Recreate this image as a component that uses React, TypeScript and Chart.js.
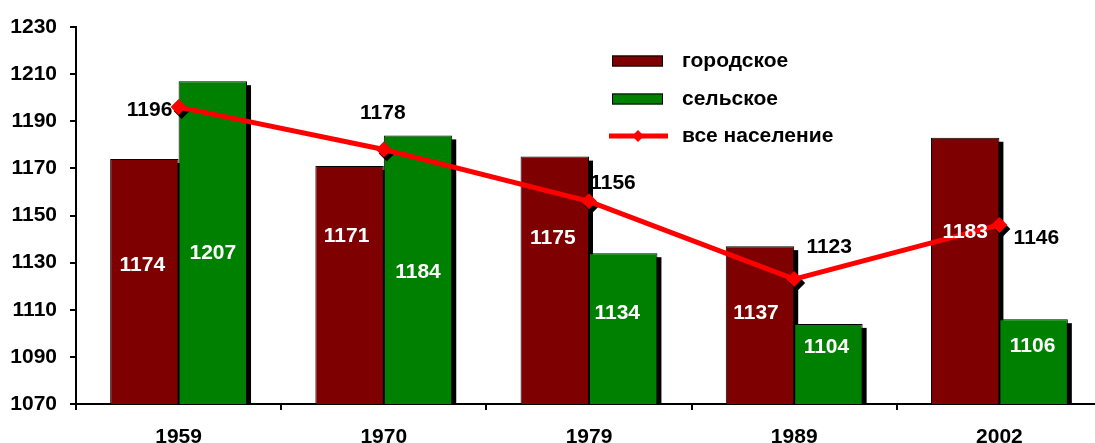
import React, { useEffect, useRef } from 'react';
import { Chart, registerables } from 'chart.js';

Chart.register(...registerables);

const years = ['1959', '1970', '1979', '1989', '2002'];
const urban = [1174, 1171, 1175, 1137, 1183];
const rural = [1207, 1184, 1134, 1104, 1106];
const total = [1196, 1178, 1156, 1123, 1146];
const seriesNames = ['городское', 'сельское', 'все население'];
const yMin = 1070;
const yMax = 1230;
const yStep = 20;

// label placement (style): offsets from bar top / point in pixels
const urbanLabelOffsets = [[-2, 106], [-3, 70], [-2, 82], [-4, 67], [0, 94]];
const ruralLabelOffsets = [[0, 172], [0, 137], [-6, 60], [-2, 23], [-1, 27]];
const totalLabelOffsets = [[-29, 3], [-1, -36], [24, -18], [35, -32], [37, 13]];

const FONT_FAMILY = '"Liberation Sans", Arial, sans-serif';
const FONT_SIZE = 21;
const BOLD = `bold ${FONT_SIZE}px ${FONT_FAMILY}`;
const URBAN_COLOR = '#7f0000';
const RURAL_COLOR = '#008000';
const LINE_COLOR = '#ff0000';

function diamond(ctx: CanvasRenderingContext2D, x: number, y: number, r: number) {
  ctx.beginPath();
  ctx.moveTo(x, y - r);
  ctx.lineTo(x + r, y);
  ctx.lineTo(x, y + r);
  ctx.lineTo(x - r, y);
  ctx.closePath();
  ctx.fill();
}

const decorPlugin = {
  id: 'decor',
  beforeDatasetsDraw(chart: any) {
    const ctx = chart.ctx as CanvasRenderingContext2D;
    const a = chart.chartArea;
    ctx.save();
    ctx.beginPath();
    ctx.rect(a.left, a.top, a.right - a.left, a.bottom - a.top);
    ctx.clip();
    ctx.fillStyle = '#000';
    [0, 1].forEach((di) => {
      const meta = chart.getDatasetMeta(di);
      meta.data.forEach((el: any) => {
        const { x, y, base, width } = el.getProps(['x', 'y', 'base', 'width'], true);
        ctx.fillRect(x - width / 2 + 4, y + 4, width, base - y - 4);
      });
    });
    ctx.restore();
  },
  beforeDatasetDraw(chart: any, args: any) {
    if (args.index !== 2) return;
    const ctx = chart.ctx as CanvasRenderingContext2D;
    ctx.save();
    ctx.fillStyle = '#000';
    chart.getDatasetMeta(2).data.forEach((el: any) => {
      diamond(ctx, el.x + 3, el.y + 4, 8);
    });
    ctx.restore();
  },
  afterDatasetsDraw(chart: any) {
    const ctx = chart.ctx as CanvasRenderingContext2D;
    ctx.save();
    ctx.font = BOLD;
    ctx.textAlign = 'center';
    ctx.textBaseline = 'middle';
    const groups: [number, number[][], string, number[]][] = [
      [0, urbanLabelOffsets, '#fff', urban],
      [1, ruralLabelOffsets, '#fff', rural],
      [2, totalLabelOffsets, '#000', total],
    ];
    groups.forEach(([di, offs, color, vals]) => {
      ctx.fillStyle = color;
      chart.getDatasetMeta(di).data.forEach((el: any, i: number) => {
        ctx.fillText(String(vals[i]), el.x + offs[i][0], el.y + offs[i][1]);
      });
    });
    ctx.restore();
  },
  afterDraw(chart: any) {
    const ctx = chart.ctx as CanvasRenderingContext2D;
    const ds = chart.data.datasets;
    const boxX = 612;
    const textX = 682;
    const rows = [61, 99, 136];
    ctx.save();
    ctx.font = BOLD;
    ctx.textAlign = 'left';
    ctx.textBaseline = 'middle';
    rows.forEach((cy, i) => {
      if (i < 2) {
        ctx.fillStyle = ds[i].backgroundColor;
        ctx.fillRect(boxX, cy - 5.5, 51, 11);
        ctx.strokeStyle = '#000';
        ctx.lineWidth = 1;
        ctx.strokeRect(boxX + 0.5, cy - 5.5 + 0.5, 50, 10);
      } else {
        ctx.strokeStyle = ds[i].borderColor;
        ctx.lineWidth = 5;
        ctx.beginPath();
        ctx.moveTo(boxX - 3, cy);
        ctx.lineTo(boxX + 56, cy);
        ctx.stroke();
        ctx.fillStyle = ds[i].borderColor;
        diamond(ctx, boxX + 26, cy, 6);
      }
      ctx.fillStyle = '#000';
      ctx.fillText(ds[i].label, textX, cy);
    });
    ctx.restore();
  },
};

export default function App() {
  const ref = useRef<HTMLCanvasElement | null>(null);
  useEffect(() => {
    document.body.style.margin = '0';
    if (!ref.current) return;
    const chart = new Chart(ref.current, {
      type: 'bar',
      data: {
        labels: years,
        datasets: [
          {
            type: 'bar',
            label: seriesNames[0],
            data: urban,
            backgroundColor: URBAN_COLOR,
            borderColor: '#000',
            borderWidth: 1,
            categoryPercentage: 0.667,
            barPercentage: 1,
            order: 1,
          },
          {
            type: 'bar',
            label: seriesNames[1],
            data: rural,
            backgroundColor: RURAL_COLOR,
            borderColor: '#000',
            borderWidth: 1,
            categoryPercentage: 0.667,
            barPercentage: 1,
            order: 2,
          },
          {
            type: 'line',
            label: seriesNames[2],
            data: total,
            borderColor: LINE_COLOR,
            backgroundColor: LINE_COLOR,
            borderWidth: 5,
            pointStyle: 'rectRot',
            pointRadius: 8,
            pointBackgroundColor: LINE_COLOR,
            pointBorderColor: LINE_COLOR,
            pointBorderWidth: 0,
            tension: 0,
            order: 0,
          } as any,
        ],
      },
      options: {
        responsive: false,
        animation: false,
        layout: { padding: { top: 27, right: 2, left: 0, bottom: 0 } },
        plugins: {
          legend: { display: false },
          tooltip: { enabled: false },
        },
        scales: {
          x: {
            offset: true,
            grid: {
              display: true,
              offset: true,
              drawOnChartArea: false,
              tickLength: 6,
              color: '#000',
              lineWidth: 2,
            },
            border: { display: true, color: '#000', width: 2 },
            ticks: {
              color: '#000',
              font: { family: FONT_FAMILY, size: FONT_SIZE, weight: 'bold' },
              padding: 15,
              autoSkip: false,
              maxRotation: 0,
            },
            afterFit(scale: any) {
              scale.height = 39;
            },
          },
          y: {
            min: yMin,
            max: yMax,
            grid: {
              display: true,
              drawOnChartArea: false,
              tickLength: 6,
              color: '#000',
              lineWidth: 2,
            },
            border: { display: true, color: '#000', width: 2 },
            ticks: {
              stepSize: yStep,
              color: '#000',
              font: { family: FONT_FAMILY, size: FONT_SIZE, weight: 'bold' },
              padding: 13,
              callback: (v: any) => String(v),
            },
            afterFit(scale: any) {
              scale.width = 76;
            },
          },
        },
      },
      plugins: [decorPlugin],
    });
    return () => chart.destroy();
  }, []);
  return (
    <div style={{ width: 1095, height: 443, overflow: 'hidden', background: '#fff' }}>
      <canvas ref={ref} width={1110} height={443} style={{ display: 'block' }} />
    </div>
  );
}
